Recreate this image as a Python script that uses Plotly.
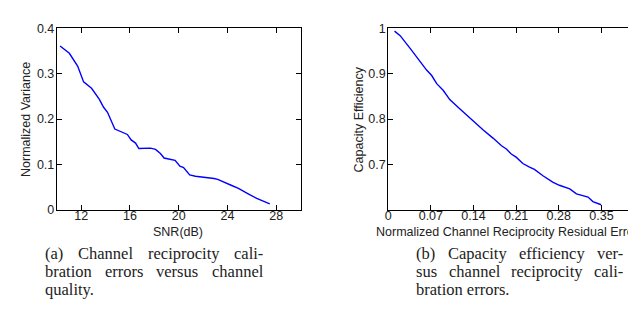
import plotly.graph_objects as go

# ---- data: (a) normalized variance vs SNR ----
snr_db = [10.27, 11.03, 11.71, 12.2, 12.85, 13.48, 13.84, 14.16, 14.76, 15.79, 16.1, 16.46,
          16.73, 17.68, 18.1, 18.5, 18.8, 19.7, 20.1, 20.4, 20.9, 21.37, 22.9, 23.2, 24.3,
          24.9, 25.7, 26.4, 27.47]
norm_var = [0.361, 0.345, 0.317, 0.282, 0.268, 0.244, 0.226, 0.215, 0.178, 0.166, 0.154, 0.147,
            0.135, 0.136, 0.133, 0.124, 0.114, 0.109, 0.096, 0.093, 0.077, 0.074, 0.069, 0.067,
            0.054, 0.047, 0.035, 0.025, 0.013]

# ---- data: (b) capacity efficiency vs residual error ----
resid_err = [0.0104, 0.0196, 0.036, 0.0578, 0.063, 0.0714, 0.0796, 0.0905, 0.101, 0.1178,
             0.1396, 0.156, 0.172, 0.180, 0.186, 0.194, 0.202, 0.210, 0.221, 0.232, 0.240,
             0.254, 0.270, 0.281, 0.298, 0.309, 0.328, 0.336, 0.3495]
cap_eff = [0.994, 0.984, 0.956, 0.917, 0.908, 0.896, 0.878, 0.863, 0.843, 0.822, 0.795, 0.776,
           0.758, 0.748, 0.741, 0.734, 0.723, 0.716, 0.702, 0.694, 0.689, 0.675, 0.661, 0.654,
           0.646, 0.635, 0.628, 0.618, 0.611]

xa_ticks = [12, 16, 20, 24, 28]
ya_ticks = [0, 0.1, 0.2, 0.3, 0.4]
ya_labels = ["0", "0.1", "0.2", "0.3", "0.4"]
xb_ticks = [0, 0.07, 0.14, 0.21, 0.28, 0.35]
xb_labels = ["0", "0.07", "0.14", "0.21", "0.28", "0.35"]
yb_ticks = [0.7, 0.8, 0.9, 1.0]
yb_labels = ["0.7", "0.8", "0.9", "1"]

cap_a = ["(a) Channel reciprocity cali-", "bration errors versus channel", "quality."]
cap_b = ["(b) Capacity efficiency ver-", "sus channel reciprocity cali-", "bration errors."]

W, H = 636, 309
SANS = "Liberation Sans, Arial, sans-serif"
SERIF = "Liberation Serif, Times New Roman, serif"
LAB = 12.5

fig = go.Figure()
fig.add_trace(go.Scatter(x=snr_db, y=norm_var, mode="lines", line=dict(color="#0000ff", width=1.4),
                         xaxis="x", yaxis="y", showlegend=False))
fig.add_trace(go.Scatter(x=resid_err, y=cap_eff, mode="lines", line=dict(color="#0000ff", width=1.4),
                         xaxis="x2", yaxis="y2", showlegend=False))

def px(x):
    return x / W

def py(y):
    return 1 - y / H

ax_common = dict(showgrid=False, zeroline=False, showline=True, linecolor="black", linewidth=1,
                 mirror="allticks", ticks="inside", ticklen=5, tickcolor="black", tickwidth=1,
                 tickfont=dict(family=SANS, size=LAB, color="#222"))

fig.update_layout(
    width=W, height=H, margin=dict(l=0, r=0, t=0, b=0),
    paper_bgcolor="white", plot_bgcolor="white",
    xaxis=dict(domain=[px(46), px(291)], range=[10, 30], tickvals=xa_ticks, anchor="y",
               ticklabelstandoff=-6, **ax_common),
    yaxis=dict(domain=[py(204), py(14)], range=[0, 0.4], tickvals=ya_ticks, ticktext=ya_labels,
               anchor="x", ticklabelstandoff=-1, **ax_common),
    xaxis2=dict(domain=[px(379), px(633)], range=[0, 0.415], tickvals=xb_ticks, ticktext=xb_labels,
                anchor="y2", ticklabelstandoff=-6, **ax_common),
    yaxis2=dict(domain=[py(204), py(14)], range=[0.6, 1.0], tickvals=yb_ticks, ticktext=yb_labels,
                anchor="x2", ticklabelstandoff=-1, **ax_common),
)

ann = []
def text(x, y, s, size, family, angle=0, xanchor="center"):
    ann.append(dict(x=px(x), y=py(y), xref="paper", yref="paper", text=s, showarrow=False,
                    textangle=angle, xanchor=xanchor, yanchor="middle", borderpad=0,
                    font=dict(family=family, size=size, color="#222")))

text(168, 227, "SNR(dB)", LAB, SANS)
text(498, 227, "Normalized Channel Reciprocity Residual Error", LAB, SANS)
text(15, 109, "Normalized Variance", LAB, SANS, angle=-90)
text(350, 109, "Capacity Efficiency", LAB, SANS, angle=-90)

# Times metrics (1/1000 em) for justified caption layout
TW = {' ': 250, '(': 333, ')': 333, '-': 333, '.': 250, 'a': 444, 'b': 500, 'c': 444, 'd': 500,
      'e': 444, 'f': 333, 'h': 500, 'i': 278, 'l': 278, 'n': 500, 'o': 500, 'p': 500, 'q': 500,
      'r': 333, 's': 389, 't': 278, 'u': 500, 'v': 500, 'y': 500, 'C': 667}

def wwidth(w, size):
    return sum(TW.get(c, 500) for c in w) * size / 1000.0

CAP = 16.5
def caption(lines, x0, x1, ys):
    for i, (line, yy) in enumerate(zip(lines, ys)):
        words = line.split(" ")
        if i == len(lines) - 1:
            text(x0, yy, line, CAP, SERIF, xanchor="left")
            continue
        total = sum(wwidth(w, CAP) for w in words)
        gap = (x1 - x0 - total) / (len(words) - 1)
        x = x0
        for w in words:
            text(x, yy, w, CAP, SERIF, xanchor="left")
            x += wwidth(w, CAP) + gap

caption(cap_a, 33, 252, [250, 269, 288])
caption(cap_b, 406, 614, [250, 269, 288])

fig.update_layout(annotations=ann)
fig.write_html("out.html")
